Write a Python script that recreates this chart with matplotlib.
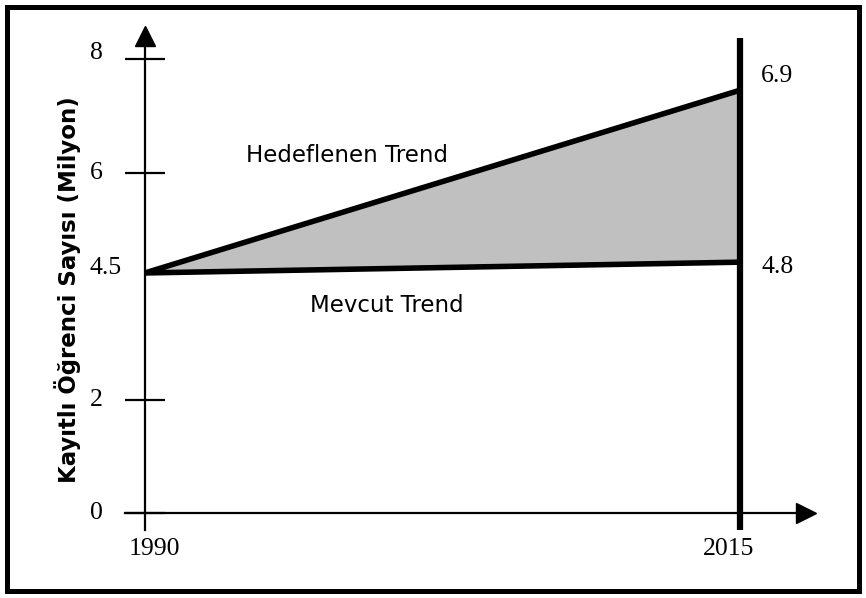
import matplotlib
matplotlib.use("Agg")
import matplotlib.pyplot as plt
from matplotlib.patches import Polygon, Rectangle

# data (drawn positions) and the printed labels
years = [1990, 2015]
target_trend = [4.23, 7.45]     # Hedeflenen Trend
current_trend = [4.23, 4.42]    # Mevcut Trend
end_labels = ["4.5", "6.9", "4.8"]
y_ticks = [0, 2, 6, 8]
y_tick_labels = ["0", "2", "6", "8"]
year_labels = ["1990", "2015"]

W, H = 866, 598
# pixel layout of the original drawing
X0_PX, X1_PX = 145, 740       # 1990 and 2015
Y0_PX, Y8_PX = 513, 59        # 0 and 8
ppx = (X1_PX - X0_PX) / (years[1] - years[0])
ppy = (Y0_PX - Y8_PX) / 8.0


def px2x(px):
    return years[0] + (px - X0_PX) / ppx


def px2y(py):
    return (Y0_PX - py) / ppy


fig = plt.figure(figsize=(W / 100, H / 100), dpi=100)
ax = fig.add_axes([0, 0, 1, 1])
ax.set_xlim(px2x(0), px2x(W))
ax.set_ylim(px2y(H), px2y(0))

serif = "Liberation Serif"
sans = "DejaVu Sans"
num_size = 18.5

# axes as spines with arrow heads
for s in ["top", "right"]:
    ax.spines[s].set_visible(False)
ax.spines["left"].set_position(("data", years[0]))
ax.spines["bottom"].set_position(("data", 0))
ax.spines["left"].set_bounds(px2y(530), px2y(40))
ax.spines["bottom"].set_bounds(px2x(125), px2x(805))
ax.spines["left"].set_linewidth(1.6)
ax.spines["bottom"].set_linewidth(1.6)
ax.plot(years[0], px2y(36), marker="^", color="black", markersize=15, clip_on=False)
ax.plot(px2x(806), 0, marker=">", color="black", markersize=15, clip_on=False)

ax.set_xticks([])
ax.set_yticks(y_ticks)
ax.set_yticklabels([])
ax.tick_params(axis="y", direction="inout", length=29, width=1.6, color="black")

# tick labels, left aligned like the original
lbl_tr = ax.get_yaxis_transform()
for v, t in zip(y_ticks, y_tick_labels):
    dy = 6 if v == 8 else 0
    ax.text(90 / W, v + dy / ppy, t, transform=lbl_tr, ha="left", va="center",
            fontsize=num_size, family=serif)
ax.text(90 / W, current_trend[0] + 5 / ppy, end_labels[0], transform=lbl_tr,
        ha="left", va="center", fontsize=num_size, family=serif)

ax.text(px2x(154), px2y(549), year_labels[0], ha="center", va="center",
        fontsize=num_size, family=serif)
ax.text(px2x(729), px2y(549), year_labels[1], ha="center", va="center",
        fontsize=num_size, family=serif)

# shaded gap between the two trends
poly = Polygon([(years[0], target_trend[0]), (years[1], target_trend[1]),
                (years[1], current_trend[1])],
               closed=True, facecolor="#c0c0c0", edgecolor="black",
               linewidth=4, joinstyle="miter")
ax.add_patch(poly)

# 2015 line
ax.vlines(years[1], px2y(530), px2y(38), color="black", linewidth=4.5)

ax.text(px2x(761), target_trend[1] + 14 / ppy, end_labels[1], ha="left",
        va="center", fontsize=num_size, family=serif)
ax.text(px2x(761), current_trend[1] - 5 / ppy, end_labels[2], ha="left",
        va="center", fontsize=num_size, family=serif)

ax.text(px2x(347), px2y(155), "Hedeflenen Trend", ha="center", va="center",
        fontsize=16.5, family=sans)
ax.text(px2x(387), px2y(306), "Mevcut Trend", ha="center", va="center",
        fontsize=16.5, family=sans)

ax.text(px2x(68), px2y(290), "Kayıtlı Öğrenci Sayısı (Milyon)", rotation=90,
        ha="center", va="center", fontsize=16.5, fontweight="bold", family=sans)

# outer frame
fig.patches.append(Rectangle((7 / W, 7 / H), 852 / W, 584 / H,
                             transform=fig.transFigure, fill=False,
                             edgecolor="black", linewidth=3.6))

fig.savefig("out.png", dpi=100)
